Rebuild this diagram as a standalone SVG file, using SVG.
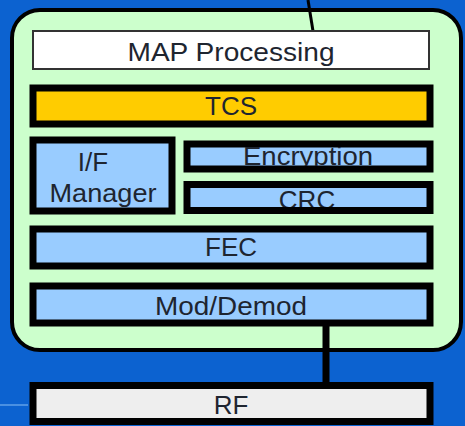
<svg xmlns="http://www.w3.org/2000/svg" width="465" height="426" viewBox="0 0 465 426">
<style>
.lbl{font-family:"Liberation Sans",Arial,sans-serif;font-size:26px;fill:#1e2530;text-anchor:middle}
.blk{stroke:#000;stroke-width:7}
.blue{fill:#99ccff}
.conn{stroke:#000;fill:none}
</style>
<defs>
<clipPath id="cEnc"><rect x="190" y="147" width="237" height="19"/></clipPath>
<clipPath id="cCrc"><rect x="190" y="188" width="237" height="19"/></clipPath>
</defs>
<rect x="0" y="0" width="465" height="426" fill="#0c62d0"/>
<line x1="0" y1="405" x2="28" y2="405" stroke="#4a90e2" stroke-width="2"/>
<g id="frame">
<rect x="12" y="10" width="449" height="340" rx="28" ry="28" fill="#ccffcc" stroke="#000" stroke-width="4"/>
</g>
<g id="connectors">
<line class="conn" x1="308" y1="0" x2="313" y2="31" stroke-width="3"/>
<line class="conn" x1="326" y1="326" x2="326" y2="383" stroke-width="7"/>
</g>
<g id="map">
<rect x="33" y="31" width="396" height="38" fill="#ffffff" stroke="#333" stroke-width="2"/>
<text class="lbl" x="231" y="61" textLength="207" lengthAdjust="spacingAndGlyphs">MAP Processing</text>
</g>
<g id="tcs">
<rect class="blk" x="33" y="88" width="397" height="36" fill="#ffcc00" stroke-width="6"/>
<text class="lbl" x="231" y="115">TCS</text>
</g>
<g id="ifmanager">
<rect class="blk blue" x="33" y="140" width="139" height="71" stroke-width="6"/>
<text class="lbl" x="93" y="171">I/F</text>
<text class="lbl" x="103" y="202" textLength="107" lengthAdjust="spacingAndGlyphs">Manager</text>
</g>
<g id="encryption">
<rect class="blk blue" x="187" y="144" width="243" height="25" stroke-width="6"/>
<text class="lbl" x="308" y="165" clip-path="url(#cEnc)" textLength="130" lengthAdjust="spacingAndGlyphs">Encryption</text>
</g>
<g id="crc">
<rect class="blk blue" x="187" y="184.5" width="243" height="26"/>
<text class="lbl" x="307" y="209" clip-path="url(#cCrc)">CRC</text>
</g>
<g id="fec">
<rect class="blk blue" x="33" y="229" width="397" height="37"/>
<text class="lbl" x="231" y="256">FEC</text>
</g>
<g id="moddemod">
<rect class="blk blue" x="33" y="286" width="397" height="37"/>
<text class="lbl" x="231" y="315" textLength="152" lengthAdjust="spacingAndGlyphs">Mod/Demod</text>
</g>
<g id="rf">
<rect class="blk" x="33" y="385.5" width="397" height="36" fill="#eeeeee"/>
<text class="lbl" x="231" y="414">RF</text>
</g>
</svg>
